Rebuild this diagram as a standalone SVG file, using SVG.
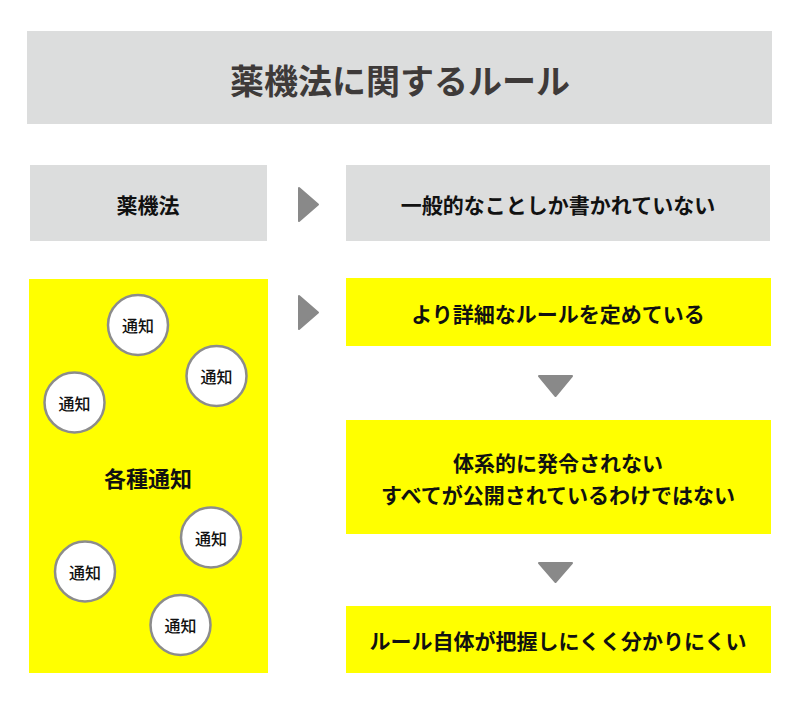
<svg xmlns="http://www.w3.org/2000/svg" width="800" height="715" viewBox="0 0 800 715">
<style>
.t{font-family:"Noto Sans CJK JP","Noto Sans CJK SC",sans-serif;font-weight:bold;text-anchor:middle;dominant-baseline:central;fill:#111}
.gray{fill:#dcdddd}
.yel{fill:#ffff00}
.arr{fill:#898989;stroke:#898989;stroke-width:2;stroke-linejoin:round}
.c{fill:#fff;stroke:#8c8c8c;stroke-width:2.5}
.ct{font-size:16px;font-weight:500}
.m{font-size:21px}
</style>
<rect width="800" height="715" fill="#fff"/>
<g id="title"><rect class="gray" x="27" y="31" width="745" height="93"/><text class="t" x="400" y="79" font-size="34" style="fill:#3e3a39">薬機法に関するルール</text></g>
<g id="yakkiho"><rect class="gray" x="30" y="165" width="237" height="76"/><text class="t m" x="148" y="204">薬機法</text></g>
<g id="general"><rect class="gray" x="346" y="165" width="424" height="76"/><text class="t m" x="558" y="204">一般的なことしか書かれていない</text></g>
<g id="tsuchi"><rect class="yel" x="29" y="279" width="239" height="394"/><text class="t" x="148" y="477" font-size="22">各種通知</text>
<g id="c1"><circle class="c" cx="138" cy="325" r="30"/><text class="t ct" x="138" y="325">通知</text></g>
<g id="c2"><circle class="c" cx="216.5" cy="376" r="30"/><text class="t ct" x="216.5" y="376">通知</text></g>
<g id="c3"><circle class="c" cx="74.5" cy="402.5" r="30"/><text class="t ct" x="74.5" y="402.5">通知</text></g>
<g id="c4"><circle class="c" cx="211" cy="537.5" r="30"/><text class="t ct" x="211" y="537.5">通知</text></g>
<g id="c5"><circle class="c" cx="85" cy="571.5" r="30"/><text class="t ct" x="85" y="571.5">通知</text></g>
<g id="c6"><circle class="c" cx="180.5" cy="625" r="30"/><text class="t ct" x="180.5" y="625">通知</text></g>
</g>
<g id="detail"><rect class="yel" x="346" y="278" width="425" height="68"/><text class="t m" x="558" y="313">より詳細なルールを定めている</text></g>
<g id="nosystem"><rect class="yel" x="346" y="420" width="425" height="114"/><text class="t m" x="558" y="462">体系的に発令されない</text><text class="t m" x="558" y="494">すべてが公開されているわけではない</text></g>
<g id="hard"><rect class="yel" x="346" y="606" width="425" height="67"/><text class="t m" x="558" y="640">ルール自体が把握しにくく分かりにくい</text></g>
<g id="connectors">
<polygon class="arr" points="299,188 318,204.5 299,221"/>
<polygon class="arr" points="299,296 318,312.5 299,329"/>
<polygon class="arr" points="539,376 572,376 555.5,396"/>
<polygon class="arr" points="539,563 572,563 555.5,582"/>
</g>
</svg>
